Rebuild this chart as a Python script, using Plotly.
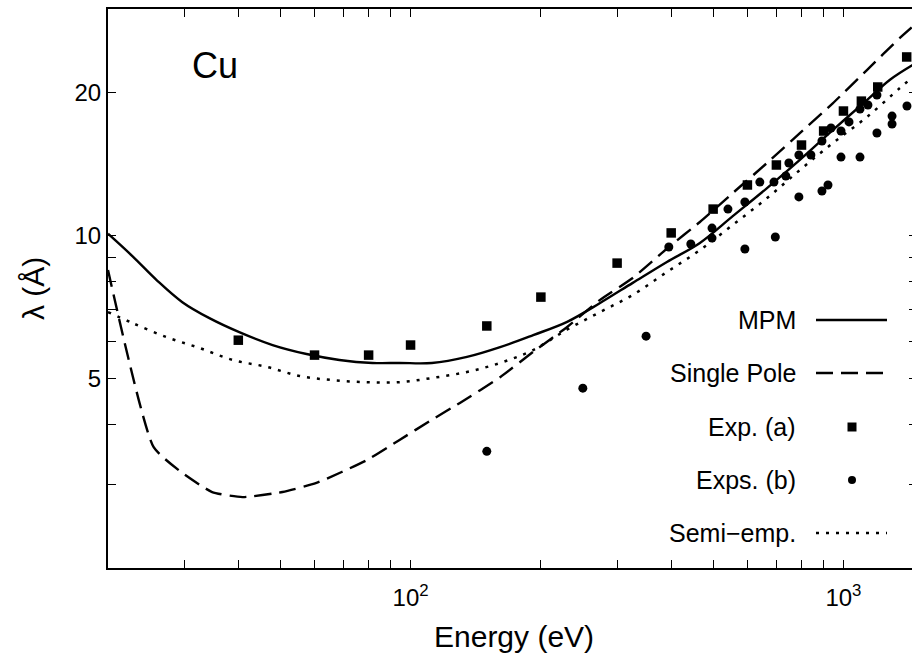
import numpy as np
import plotly.graph_objects as go

# ---------------- data ----------------
mpm_E = [20, 22.8, 25.9, 29.7, 34.3, 40.2, 48, 57.5, 68.5, 81.7, 94.3, 112, 135, 161,
         192, 230, 274, 326, 391, 466, 555, 666, 793, 946, 1133, 1281, 1448]
mpm_L = [10.1, 9.05, 8.07, 7.25, 6.71, 6.27, 5.89, 5.64, 5.48, 5.40, 5.40, 5.40, 5.56, 5.83,
         6.18, 6.59, 7.22, 7.96, 8.81, 9.66, 11.0, 12.6, 14.44, 16.7, 19.3, 21.3, 22.9]

sp_E = [20, 25.5, 29.7, 34.8, 40.9, 50.6, 60.6, 79.1, 94.3, 112, 130, 161, 192,
        230, 274, 326, 391, 466, 555, 666, 793, 946, 1133, 1350, 1448]
sp_L = [8.47, 3.59, 3.17, 2.89, 2.82, 2.89, 3.02, 3.37, 3.72, 4.10, 4.45, 5.04, 5.70,
        6.43, 7.33, 8.15, 9.4, 10.69, 12.3, 14.23, 16.45, 19.02, 22.32, 26.08, 27.6]

semi_E = [20, 22.8, 27.3, 32.5, 38.8, 46.5, 55.4, 66, 79.1, 94.3, 112, 135, 161, 192,
          230, 274, 326, 391, 466, 555, 666, 793, 946, 1133, 1350, 1448]
semi_L = [6.91, 6.55, 6.12, 5.81, 5.48, 5.30, 5.07, 4.97, 4.92, 4.92, 5.02, 5.17, 5.40, 5.75,
          6.35, 6.91, 7.51, 8.39, 9.33, 10.54, 12.0, 13.75, 15.68, 17.78, 20.46, 21.6]

expa_E = [20, 40, 60, 80, 100, 150, 200, 300, 400, 500, 600, 700, 800, 900, 1000, 1100, 1200, 1400]
expa_L = [8.47, 6.03, 5.61, 5.61, 5.89, 6.46, 7.43, 8.76, 10.14, 11.38, 12.79, 14.09, 15.52,
          16.61, 18.3, 19.2, 20.56, 23.78]

expb_E = [150, 250, 350, 395, 444, 497, 497, 541, 592, 592, 641, 691, 696, 736, 748, 789, 789,
          841, 892, 892, 921, 936, 987, 987, 1030, 1092, 1092, 1139, 1195, 1195, 1295, 1295, 1402]
expb_L = [3.52, 4.78, 6.15, 9.47, 9.61, 10.38, 9.89, 11.38, 11.78, 9.38, 12.97, 12.97, 9.94,
          13.36, 14.23, 14.79, 12.07, 14.79, 15.83, 12.42, 12.79, 16.86, 16.61, 14.64, 17.36,
          18.48, 14.64, 18.84, 19.78, 16.45, 17.86, 17.19, 18.75]

x_tickvals = [20, 30, 40, 50, 60, 70, 80, 90, 100, 200, 300, 400, 500, 600, 700, 800, 900, 1000]
x_ticktext = ["" if v not in (100, 1000) else ("10<sup>2</sup>" if v == 100 else "10<sup>3</sup>")
              for v in x_tickvals]
y_tickvals = [3, 4, 5, 6, 7, 8, 9, 10, 20]
y_ticktext = ["" if v not in (5, 10, 20) else str(v) for v in y_tickvals]

legend_labels = ["MPM", "Single Pole", "Exp. (a)", "Exps. (b)", "Semi\u2212emp."]

# ---------------- figure ----------------
FONT = "Liberation Sans, Arial, Helvetica, sans-serif"
W, H = 913, 660
ML, MR, MT, MB = 108, 1, 9, 92
PW, PH = W - ML - MR, H - MT - MB
LW = 2.4


def px2paper(px, py):
    return (px - ML) / PW, (H - MB - py) / PH


fig = go.Figure()
fig.add_trace(go.Scatter(x=mpm_E, y=mpm_L, mode="lines",
                         line=dict(color="black", width=LW, shape="spline", smoothing=1.0),
                         hoverinfo="skip", showlegend=False))
fig.add_trace(go.Scatter(x=sp_E, y=sp_L, mode="lines",
                         line=dict(color="black", width=LW, dash="17px,8px",
                                   shape="spline", smoothing=0.5),
                         hoverinfo="skip", showlegend=False))
fig.add_trace(go.Scatter(x=semi_E, y=semi_L, mode="lines",
                         line=dict(color="black", width=2.5, dash="3px,7px",
                                   shape="spline", smoothing=1.0),
                         hoverinfo="skip", showlegend=False))
fig.add_trace(go.Scatter(x=expa_E, y=expa_L, mode="markers",
                         marker=dict(symbol="square", size=9.5, color="black"),
                         cliponaxis=False, hoverinfo="skip", showlegend=False))
fig.add_trace(go.Scatter(x=expb_E, y=expb_L, mode="markers",
                         marker=dict(symbol="circle", size=9, color="black"),
                         cliponaxis=False, hoverinfo="skip", showlegend=False))
# helper trace so the right-hand tick axis is drawn
fig.add_trace(go.Scatter(x=[100], y=[5], yaxis="y2", mode="markers",
                         marker=dict(opacity=0), hoverinfo="skip", showlegend=False))

axis_common = dict(showgrid=False, zeroline=False, ticks="inside", ticklen=8, tickwidth=1,
                   tickcolor="black", linecolor="black", linewidth=2,
                   tickfont=dict(family=FONT, size=24, color="black"))

fig.update_layout(
    width=W, height=H,
    margin=dict(l=ML, r=MR, t=MT, b=MB, pad=0),
    paper_bgcolor="white", plot_bgcolor="white",
    font=dict(family=FONT, color="black"),
    xaxis=dict(type="log", range=[np.log10(20), np.log10(1440)],
               tickmode="array", tickvals=x_tickvals, ticktext=x_ticktext,
               showline=True, mirror="ticks", ticklabelstandoff=7, **axis_common),
    yaxis=dict(type="log", range=[np.log10(2), np.log10(30)],
               tickmode="array", tickvals=y_tickvals, ticktext=y_ticktext,
               showline=True, mirror=False, ticklabelstandoff=0, **axis_common),
    yaxis2=dict(type="log", range=[np.log10(2), np.log10(30)], overlaying="y", side="right",
                tickmode="array", tickvals=y_tickvals, ticktext=[""] * len(y_tickvals),
                showline=False, showgrid=False, zeroline=False, ticks="inside", ticklen=3,
                tickwidth=1, tickcolor="black"),
)

annotations = []
cx, cy = px2paper(215, 65)
annotations.append(dict(x=cx, y=cy, xref="paper", yref="paper", text="Cu", showarrow=False,
                        xanchor="center", yanchor="middle", font=dict(family=FONT, size=36)))
tx, ty = px2paper(513.5, 636)
annotations.append(dict(x=tx, y=ty, xref="paper", yref="paper", text="Energy (eV)",
                        showarrow=False, xanchor="center", yanchor="middle",
                        font=dict(family=FONT, size=30)))
yx, yy = px2paper(33, 289)
annotations.append(dict(x=yx, y=yy, xref="paper", yref="paper", text="\u03bb (\u00c5)",
                        showarrow=False, xanchor="center", yanchor="middle", textangle=-90,
                        font=dict(family=FONT, size=30)))

rows_py = [320, 373, 427, 480, 533]
shapes = []
for lab, py in zip(legend_labels, rows_py):
    lx, ly = px2paper(798, py)
    annotations.append(dict(x=lx, y=ly, xref="paper", yref="paper", text=lab, showarrow=False,
                            xanchor="right", yanchor="middle",
                            font=dict(family=FONT, size=25)))

x0p, _ = px2paper(816, 0)
x1p, _ = px2paper(887, 0)
for py, dash, w in [(320, "solid", LW), (373, "17px,8px", LW), (533, "3px,7px", 2.5)]:
    _, yp = px2paper(0, py)
    shapes.append(dict(type="line", xref="paper", yref="paper", x0=x0p, x1=x1p, y0=yp, y1=yp,
                       line=dict(color="black", width=w, dash=dash)))
mx, my = px2paper(852, 427)
shapes.append(dict(type="rect", xref="paper", yref="paper", xsizemode="pixel", ysizemode="pixel",
                   xanchor=mx, yanchor=my, x0=-4.5, x1=4.5, y0=-4.5, y1=4.5,
                   fillcolor="black", line=dict(width=0)))
mx, my = px2paper(852, 480)
shapes.append(dict(type="circle", xref="paper", yref="paper", xsizemode="pixel", ysizemode="pixel",
                   xanchor=mx, yanchor=my, x0=-4, x1=4, y0=-4, y1=4,
                   fillcolor="black", line=dict(width=0)))

fig.update_layout(annotations=annotations, shapes=shapes)
fig.write_html("out.html")
